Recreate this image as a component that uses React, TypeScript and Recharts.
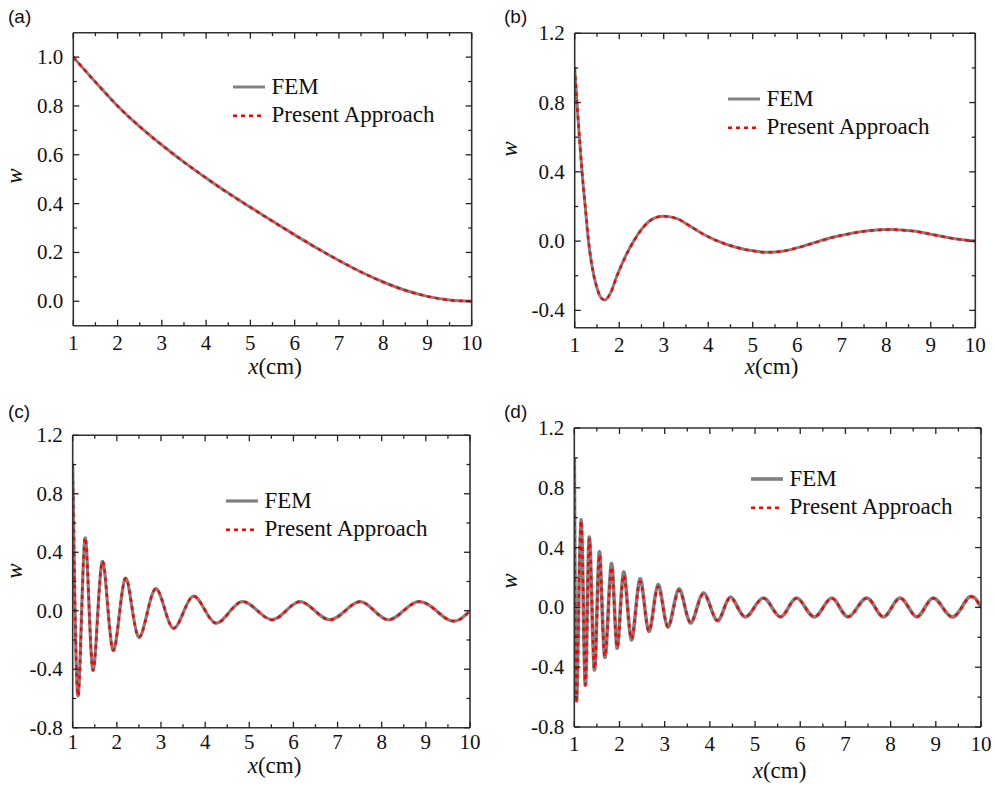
import React from 'react'
import { LineChart, Line, XAxis, YAxis, Legend } from 'recharts'

// ---- shared ticks ----
const xTicks = [1, 1.5, 2, 2.5, 3, 3.5, 4, 4.5, 5, 5.5, 6, 6.5, 7, 7.5, 8, 8.5, 9, 9.5, 10]
const xLabels = [1, 2, 3, 4, 5, 6, 7, 8, 9, 10]

// ---- panel (a) ----
const aX = [1, 1.5, 2, 2.5, 3, 3.5, 4, 4.5, 5, 5.5, 6, 6.5, 7, 7.5, 8, 8.5, 9, 9.5, 10]
const aFem = [1.0, 0.898, 0.8, 0.715, 0.64, 0.57, 0.505, 0.443, 0.385, 0.328, 0.272, 0.218, 0.167, 0.12, 0.079, 0.045, 0.02, 0.005, 0.0]
const aPresent = aFem
const aYTicks = [0, 0.1, 0.2, 0.3, 0.4, 0.5, 0.6, 0.7, 0.8, 0.9, 1.0]
const aYLabels = [0, 0.2, 0.4, 0.6, 0.8, 1.0]

// ---- panel (b) ----
const bX = [1, 1.05, 1.1, 1.165, 1.24, 1.31, 1.4, 1.5, 1.6, 1.68, 1.8, 1.95, 2.137, 2.325, 2.55, 2.775, 2.99, 3.3, 3.6, 3.9, 4.19, 4.6, 5.0, 5.31, 5.7, 6.1, 6.5, 6.8, 7.2, 7.6, 8.08, 8.6, 9.0, 9.5, 10]
const bFem = [1.0, 0.8, 0.62, 0.4, 0.19, 0.0, -0.16, -0.27, -0.33, -0.34, -0.302, -0.2, -0.09, 0.0, 0.083, 0.131, 0.144, 0.13, 0.085, 0.038, 0.003, -0.034, -0.056, -0.065, -0.057, -0.032, 0.0, 0.022, 0.044, 0.06, 0.067, 0.058, 0.04, 0.015, 0.0]
const bPresent = bFem
const bYTicks = [-0.4, -0.2, 0, 0.2, 0.4, 0.6, 0.8, 1.0, 1.2]
const bYLabels = [-0.4, 0, 0.4, 0.8, 1.2]

// ---- panel (c) ----
const cX = [1, 1.127, 1.279, 1.453, 1.664, 1.906, 2.185, 2.486, 2.864, 3.265, 3.718, 4.23, 4.83, 5.507, 6.148, 6.828, 7.507, 8.148, 8.828, 9.507, 10]
const cFem = [1.0, -0.578, 0.497, -0.403, 0.333, -0.266, 0.219, -0.178, 0.148, -0.118, 0.098, -0.084, 0.062, -0.062, 0.062, -0.062, 0.062, -0.062, 0.062, -0.062, 0.0]
const cPresent = cFem

// ---- panel (d) ----
const dX = [1, 1.053, 1.148, 1.243, 1.33, 1.443, 1.553, 1.673, 1.82, 1.945, 2.09, 2.26, 2.45, 2.646, 2.85, 3.067, 3.31, 3.567, 3.85, 4.158, 4.445, 4.78, 5.18, 5.56, 5.92, 6.31, 6.696, 7.06, 7.47, 7.84, 8.21, 8.58, 8.94, 9.35, 9.72, 10]
const dFem = [1.0, -0.617, 0.586, -0.521, 0.468, -0.416, 0.37, -0.332, 0.292, -0.271, 0.236, -0.216, 0.19, -0.16, 0.152, -0.131, 0.123, -0.104, 0.096, -0.089, 0.069, -0.064, 0.063, -0.064, 0.063, -0.064, 0.063, -0.064, 0.063, -0.064, 0.063, -0.064, 0.063, -0.064, 0.065, 0.0]
const dPresent = [1.0, -0.61, 0.58, -0.515, 0.455, -0.41, 0.35, -0.325, 0.27, -0.265, 0.215, -0.21, 0.172, -0.157, 0.138, -0.128, 0.112, -0.1, 0.088, -0.086, 0.065, -0.062, 0.061, -0.062, 0.061, -0.062, 0.061, -0.062, 0.061, -0.062, 0.061, -0.062, 0.061, -0.062, 0.062, 0.0]

const cdYTicks = [-0.8, -0.6, -0.4, -0.2, 0, 0.2, 0.4, 0.6, 0.8, 1.0, 1.2]
const cdYLabels = [-0.8, -0.4, 0, 0.4, 0.8, 1.2]

const serif = '"Liberation Serif", "Times New Roman", serif'
const sans = '"Liberation Sans", Arial, sans-serif'
const frame = '#333'
const tickCol = '#222'
const femCol = '#808080'
const presentCol = '#ff0000'

// axis boxes (subtracted from the margins so the plot box lands where it should)
const X_H = 20
const Y_W_LEFT = 40
const Y_W_RIGHT = 10

const toRows = (xs: number[], fem: number[], present: number[]) =>
    xs.map((x, i) => ({ x, fem: fem[i], present: present[i] }))

const makeXTick = (side: 'bottom' | 'top', gap = 24) => (props: any) => {
    const { x, y, payload } = props
    const major = xLabels.includes(payload.value)
    const len = major ? 6 : 3.5
    const dir = side === 'bottom' ? -1 : 1
    return (
        <g>
            <line x1={x} x2={x} y1={y} y2={y + dir * len} stroke={tickCol} strokeWidth={1.3} />
            {side === 'bottom' && major && (
                <text x={x} y={y + gap} textAnchor="middle" fontFamily={serif} fontSize={21} fill="#111">
                    {payload.value}
                </text>
            )}
        </g>
    )
}

const makeYTick = (side: 'left' | 'right', labels: number[]) => (props: any) => {
    const { x, y, payload } = props
    const major = labels.includes(payload.value)
    const len = major ? 6 : 3.5
    const dir = side === 'left' ? 1 : -1
    return (
        <g>
            <line x1={x} x2={x + dir * len} y1={y} y2={y} stroke={tickCol} strokeWidth={1.3} />
            {side === 'left' && major && (
                <text x={x - 10} y={y + 7} textAnchor="end" fontFamily={serif} fontSize={21} fill="#111">
                    {payload.value.toFixed(1)}
                </text>
            )}
        </g>
    )
}

const makeLegend = (femWidth: number) => () => (
    <svg width={230} height={50} style={{ display: 'block', overflow: 'visible' }}>
        <line x1={0} x2={32} y1={8} y2={8} stroke={femCol} strokeWidth={femWidth} />
        <text x={38.5} y={14.5} fontFamily={serif} fontSize={23} fill="#111">FEM</text>
        <line x1={0} x2={32} y1={36.7} y2={36.7} stroke={presentCol} strokeWidth={2.4} strokeDasharray="4 4" />
        <text x={38.5} y={43} fontFamily={serif} fontSize={23} fill="#111">Present Approach</text>
    </svg>
)

interface PanelProps {
    left: number
    top: number
    width: number
    height: number
    plot: { top: number; right: number; bottom: number; left: number }
    rows: { x: number; fem: number; present: number }[]
    yDomain: [number, number]
    yTicks: number[]
    yLabels: number[]
    curve: 'monotone' | 'natural'
    femWidth: number
    labelGap: number
    legendPos: { left: number; top: number }
}

function Panel(p: PanelProps) {
    const margin = {
        top: p.plot.top - X_H,
        bottom: p.plot.bottom - X_H,
        left: p.plot.left - Y_W_LEFT,
        right: p.plot.right - Y_W_RIGHT,
    }
    return (
        <div style={{ position: 'absolute', left: p.left, top: p.top }}>
            <LineChart width={p.width} height={p.height} data={p.rows} margin={margin}>
                <XAxis
                    dataKey="x"
                    type="number"
                    domain={[1, 10]}
                    allowDataOverflow
                    ticks={xTicks}
                    interval={0}
                    height={X_H}
                    tickSize={0}
                    tickMargin={0}
                    tickLine={false}
                    tick={makeXTick('bottom', p.labelGap)}
                    axisLine={{ stroke: frame, strokeWidth: 1.6 }}
                />
                <XAxis
                    xAxisId="top"
                    orientation="top"
                    dataKey="x"
                    type="number"
                    domain={[1, 10]}
                    allowDataOverflow
                    ticks={xTicks}
                    interval={0}
                    height={X_H}
                    tickSize={0}
                    tickMargin={0}
                    tickLine={false}
                    tick={makeXTick('top')}
                    axisLine={{ stroke: frame, strokeWidth: 1.6 }}
                />
                <YAxis
                    type="number"
                    domain={p.yDomain}
                    allowDataOverflow
                    ticks={p.yTicks}
                    interval={0}
                    width={Y_W_LEFT}
                    tickSize={0}
                    tickMargin={0}
                    tickLine={false}
                    tick={makeYTick('left', p.yLabels)}
                    axisLine={{ stroke: frame, strokeWidth: 1.6 }}
                />
                <YAxis
                    yAxisId="right"
                    orientation="right"
                    type="number"
                    domain={p.yDomain}
                    allowDataOverflow
                    ticks={p.yTicks}
                    interval={0}
                    width={Y_W_RIGHT}
                    tickSize={0}
                    tickMargin={0}
                    tickLine={false}
                    tick={makeYTick('right', p.yLabels)}
                    axisLine={{ stroke: frame, strokeWidth: 1.6 }}
                />
                <Legend
                    layout="vertical"
                    align="center"
                    verticalAlign="middle"
                    content={makeLegend(p.femWidth)}
                    wrapperStyle={{ left: p.legendPos.left, top: p.legendPos.top, width: 230, height: 50 }}
                />
                <Line
                    type={p.curve}
                    dataKey="fem"
                    name="FEM"
                    stroke={femCol}
                    strokeWidth={p.femWidth}
                    dot={false}
                    activeDot={false}
                    isAnimationActive={false}
                />
                <Line
                    type={p.curve}
                    dataKey="present"
                    name="Present Approach"
                    stroke={presentCol}
                    strokeWidth={2.4}
                    strokeDasharray="4 4"
                    dot={false}
                    activeDot={false}
                    isAnimationActive={false}
                />
            </LineChart>
        </div>
    )
}

function XTitle({ x, y }: { x: number; y: number }) {
    return (
        <text x={x} y={y} textAnchor="middle" fontFamily={serif} fontSize={23} fill="#111">
            <tspan fontStyle="italic">x</tspan>(cm)
        </text>
    )
}

function WTitle({ x, y }: { x: number; y: number }) {
    return (
        <text x={x} y={y} textAnchor="middle" fontFamily={serif} fontSize={23} fontStyle="italic" fill="#111"
            transform={`rotate(-90, ${x}, ${y})`}>
            w
        </text>
    )
}

export default function App() {
    return (
        <div style={{ position: 'absolute', left: 0, top: 0, width: 995, height: 785, background: '#fff' }}>
            <Panel
                left={0} top={0} width={497} height={392}
                plot={{ top: 32.7, right: 25.3, bottom: 66.3, left: 73.3 }}
                rows={toRows(aX, aFem, aPresent)}
                yDomain={[-0.1, 1.1]} yTicks={aYTicks} yLabels={aYLabels}
                curve="monotone" femWidth={3} labelGap={24}
                legendPos={{ left: 233, top: 79.3 }}
            />
            <Panel
                left={497} top={0} width={498} height={392}
                plot={{ top: 33.3, right: 19.7, bottom: 64.3, left: 77.7 }}
                rows={toRows(bX, bFem, bPresent)}
                yDomain={[-0.5, 1.2]} yTicks={bYTicks} yLabels={bYLabels}
                curve="monotone" femWidth={3} labelGap={24}
                legendPos={{ left: 231, top: 91 }}
            />
            <Panel
                left={0} top={392} width={497} height={393}
                plot={{ top: 43.3, right: 27, bottom: 57.3, left: 72.7 }}
                rows={toRows(cX, cFem, cPresent)}
                yDomain={[-0.8, 1.2]} yTicks={cdYTicks} yLabels={cdYLabels}
                curve="natural" femWidth={3.2} labelGap={21.5}
                legendPos={{ left: 226, top: 101 }}
            />
            <Panel
                left={497} top={392} width={498} height={393}
                plot={{ top: 36, right: 14, bottom: 58, left: 77.3 }}
                rows={toRows(dX, dFem, dPresent)}
                yDomain={[-0.8, 1.2]} yTicks={cdYTicks} yLabels={cdYLabels}
                curve="natural" femWidth={3.6} labelGap={24}
                legendPos={{ left: 254, top: 79.3 }}
            />
            <svg width={995} height={785} style={{ position: 'absolute', left: 0, top: 0, pointerEvents: 'none' }}>
                <text x={8} y={23} fontFamily={sans} fontSize={19} fill="#111">(a)</text>
                <text x={504} y={23} fontFamily={sans} fontSize={19} fill="#111">(b)</text>
                <text x={8} y={418} fontFamily={sans} fontSize={19} fill="#111">(c)</text>
                <text x={504} y={418} fontFamily={sans} fontSize={19} fill="#111">(d)</text>
                <WTitle x={22} y={176} />
                <WTitle x={517} y={149} />
                <WTitle x={22} y={571} />
                <WTitle x={517} y={581} />
                <XTitle x={275} y={374} />
                <XTitle x={771.5} y={374} />
                <XTitle x={274.5} y={772.5} />
                <XTitle x={779.5} y={778} />
            </svg>
        </div>
    )
}
